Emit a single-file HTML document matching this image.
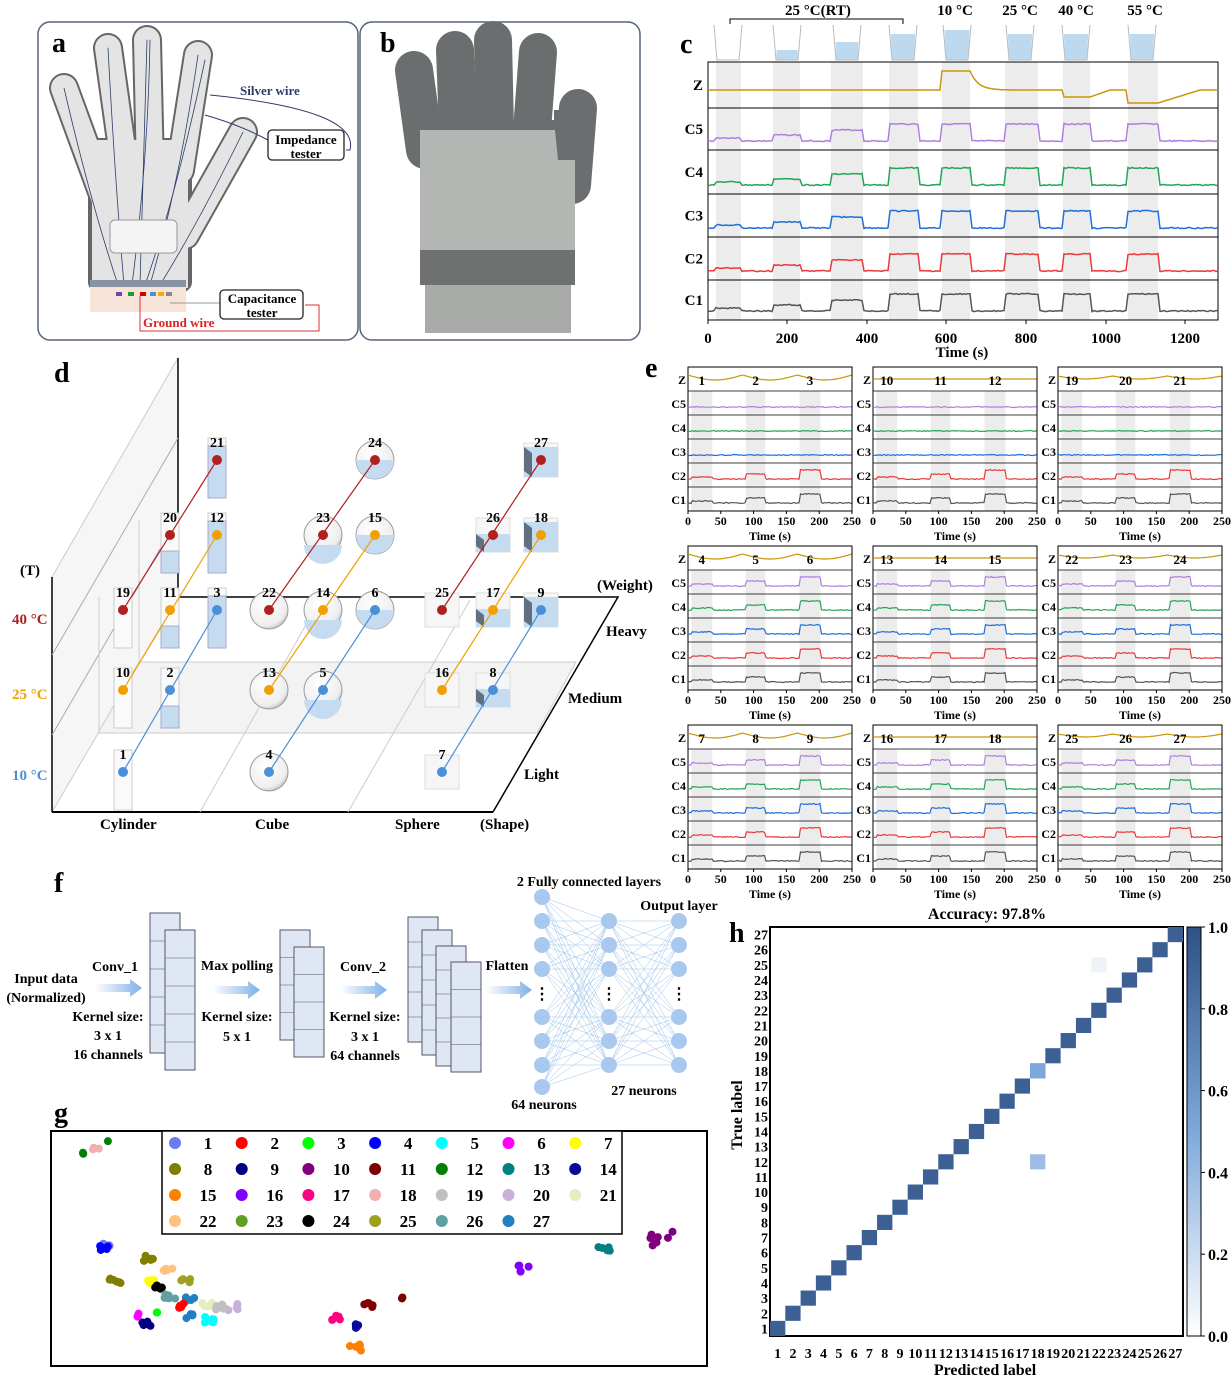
<!DOCTYPE html>
<html><head><meta charset="utf-8"><style>
html,body{margin:0;padding:0;background:#fff}
svg{display:block}
text{font-family:"Liberation Serif",serif;font-weight:bold}
</style></head><body>
<svg id="s" width="1232" height="1378" xmlns="http://www.w3.org/2000/svg">
<defs>
<linearGradient id="arr" x1="0" x2="1"><stop offset="0" stop-color="#fff"/><stop offset="1" stop-color="#7fb0e6"/></linearGradient>
<linearGradient id="cb" x1="0" x2="0" y1="0" y2="1"><stop offset="0" stop-color="#2f5185"/><stop offset="0.5" stop-color="#7ea8dc"/><stop offset="1" stop-color="#fff"/></linearGradient>
<radialGradient id="sph" cx="0.4" cy="0.35" r="0.7"><stop offset="0" stop-color="#fff"/><stop offset="0.8" stop-color="#eee"/><stop offset="1" stop-color="#bbb"/></radialGradient>
</defs>
<!-- panel a -->
<rect x="38" y="22" width="320" height="318" rx="12" fill="#fff" stroke="#55657a" stroke-width="1.5"/>
<g stroke-linecap="round" fill="none">
<g stroke="#666" stroke-width="30"><line x1="105" y1="200" x2="64" y2="88"/><line x1="125" y1="170" x2="108" y2="48"/><line x1="150" y1="170" x2="147" y2="40"/><line x1="180" y1="170" x2="198" y2="55"/><line x1="185" y1="235" x2="243" y2="132"/></g>
<rect x="90" y="140" width="100" height="150" fill="#666" stroke="#666" stroke-width="4" rx="8"/>
<g stroke="#e4e4e4" stroke-width="26"><line x1="105" y1="200" x2="64" y2="88"/><line x1="125" y1="170" x2="108" y2="48"/><line x1="150" y1="170" x2="147" y2="40"/><line x1="180" y1="170" x2="198" y2="55"/><line x1="185" y1="235" x2="243" y2="132"/></g>
<rect x="92" y="140" width="96" height="148" fill="#e4e4e4" stroke="none"/>
<g stroke="#2d3c6a" stroke-width="0.8"><path d="M64 88 Q90 200 118 285"/><path d="M108 48 Q115 180 124 285"/><path d="M147 40 L140 285"/><path d="M198 55 Q180 180 150 285"/><path d="M243 132 Q200 220 160 285"/><path d="M150 40 Q148 160 132 285"/><path d="M205 60 Q175 200 145 285"/></g>
</g>
<rect x="110" y="220" width="67" height="33" rx="5" fill="#f4f4f4" stroke="#999"/>
<rect x="90" y="280" width="96" height="7" fill="#8a93a3"/>
<rect x="90" y="287" width="96" height="25" fill="#f8e3d8"/>
<g><rect x="116" y="292" width="6" height="4" fill="#7b3fb0"/><rect x="128" y="292" width="6" height="4" fill="#1a9a3a"/><rect x="140" y="292" width="6" height="4" fill="#c00"/><rect x="150" y="292" width="6" height="4" fill="#4a90d0"/><rect x="158" y="292" width="6" height="4" fill="#f0b000"/><rect x="166" y="292" width="6" height="4" fill="#888"/></g>
<path d="M140 296 V331 H319 V305 H305" fill="none" stroke="#d33" stroke-width="1"/>
<line x1="170" y1="303" x2="220" y2="303" stroke="#999"/>
<path d="M210 95 Q360 110 350 150 L346 150" fill="none" stroke="#2d3c6a" stroke-width="1"/>
<path d="M205 115 Q240 125 268 140" fill="none" stroke="#2d3c6a" stroke-width="1"/>
<text x="240" y="95" font-size="13" fill="#2d3c6a">Silver wire</text>
<rect x="268" y="130" width="76" height="30" rx="4" fill="#fff" stroke="#222" stroke-width="1.3"/>
<text x="306" y="144" font-size="13" text-anchor="middle">Impedance</text>
<text x="306" y="158" font-size="13" text-anchor="middle">tester</text>
<rect x="220" y="290" width="83" height="29" rx="4" fill="#fff" stroke="#222" stroke-width="1.3"/>
<text x="262" y="303" font-size="13" text-anchor="middle">Capacitance</text>
<text x="262" y="317" font-size="13" text-anchor="middle">tester</text>
<text x="143" y="327" font-size="13" fill="#d22">Ground wire</text>
<text x="52" y="52" font-size="28">a</text>
<!-- panel b -->
<rect x="360" y="22" width="280" height="318" rx="12" fill="#fff" stroke="#55657a" stroke-width="1.5"/>
<g stroke-linecap="round">
<g stroke="#6b6e6e" stroke-width="38"><line x1="425" y1="150" x2="414" y2="70"/><line x1="458" y1="130" x2="455" y2="50"/><line x1="495" y1="130" x2="493" y2="40"/><line x1="532" y1="130" x2="538" y2="52"/><line x1="572" y1="185" x2="578" y2="108"/></g>
</g>
<rect x="420" y="120" width="135" height="30" fill="#6b6e6e"/>
<rect x="554" y="110" width="35" height="80" fill="#6b6e6e"/>
<path d="M420 130 L555 130 L558 160 L575 160 L575 250 L420 250 Z" fill="#b4b6b4"/>
<rect x="420" y="250" width="155" height="35" fill="#6e7170"/>
<rect x="425" y="285" width="146" height="48" fill="#a9aba9"/>
<text x="380" y="52" font-size="28">b</text>
</svg>
<script>
var S=document.getElementById('s'),NS='http://www.w3.org/2000/svg';
function E(t,a,txt){var e=document.createElementNS(NS,t);for(var k in a)e.setAttribute(k,a[k]);if(txt!==undefined)e.textContent=txt;S.appendChild(e);return e;}
function T(x,y,s,sz,fill,anc,extra){var a={x:x,y:y,'font-size':sz||13,fill:fill||'#000','text-anchor':anc||'start'};if(extra)for(var k in extra)a[k]=extra[k];return E('text',a,s);}
function L(x1,y1,x2,y2,st,w){return E('line',{x1:x1,y1:y1,x2:x2,y2:y2,stroke:st||'#000','stroke-width':w||1});}
function R(x,y,w,h,f,st,sw){return E('rect',{x:x,y:y,width:w,height:h,fill:f||'none',stroke:st||'none','stroke-width':sw||1});}
function C(x,y,r,f,st){return E('circle',{cx:x,cy:y,r:r,fill:f,stroke:st||'none'});}
var seed=3;function rnd(){seed=(seed*9301+49297)%233280;return seed/233280;}
var COL={Z:'#c8960a',C5:'#b07ee0',C4:'#23a556',C3:'#1f6fd8',C2:'#e83a3a',C1:'#555'};
/* panel c */
var rows=['Z','C5','C4','C3','C2','C1'],sep=[62,108,150,194,237,280,320];
var bands=[[716,741],[773,800],[831,863],[889,918],[942,970],[1005,1038],[1063,1090],[1128,1158]];
bands.forEach(function(b){R(b[0],62,b[1]-b[0],258,'#ececec');});
R(708,62,510,258,'none','#000',1);
for(var i=1;i<6;i++)L(708,sep[i],1218,sep[i],'#000',1);
var hts=[3,6,11,17,17,17,17,17];
rows.forEach(function(r,ri){
 var bot=sep[ri+1]-9,d='';
 for(var x=708;x<=1218;x+=2){var y;
  if(r=='Z'){y=90;if(x>=942&&x<=970)y=71;else if(x>970&&x<1010)y=71+19*(1-Math.exp(-(x-970)/8));
   if(x>=1063&&x<=1090)y=97;else if(x>1090&&x<1110)y=97-7*(x-1090)/20;
   if(x>=1128&&x<=1158)y=103;else if(x>1158&&x<1200)y=103-13*(x-1158)/42;}
  else{y=bot;bands.forEach(function(b,bi){if(x>=b[0]&&x<=b[1])y=bot-hts[bi];});y+=(rnd()-0.5)*1.2;}
  d+=(x==708?'M':'L')+x+' '+y.toFixed(1);}
 E('path',{d:d,fill:'none',stroke:COL[r],'stroke-width':1.5});
 T(703,(sep[ri]+sep[ri+1])/2+5,r,15,'#000','end');
});
[['0',708],['200',787],['400',867],['600',946],['800',1026],['1000',1106],['1200',1185]].forEach(function(t){L(t[1],320,t[1],324);T(t[1],343,t[0],15,'#000','middle');});
T(962,357,'Time (s)',15,'#000','middle');
[728,787,847,903,957,1020,1076,1142].forEach(function(x,i){var lv=[0,50,42,34,30,34,34,34][i];if(lv)E('path',{d:'M'+(x-13+(lv-25)*0.1)+' '+lv+' L'+(x-11)+' 60 L'+(x+11)+' 60 L'+(x+13-(lv-25)*0.1)+' '+lv+' Z',fill:'#bcd9f0'});E('path',{d:'M'+(x-14)+' 25 L'+(x-11)+' 60 L'+(x+11)+' 60 L'+(x+14)+' 25',fill:'none',stroke:'#bbb'});});
E('path',{d:'M730 24 V19 H903 V24',fill:'none',stroke:'#000'});
T(818,15,'25 °C(RT)',15,'#000','middle');T(955,15,'10 °C',15,'#000','middle');T(1020,15,'25 °C',15,'#000','middle');T(1076,15,'40 °C',15,'#000','middle');T(1145,15,'55 °C',15,'#000','middle');
T(680,53,'c',28);
/* panel e */
var X0=[688,873,1058],Y0=[367,546,725];
for(var c=0;c<3;c++)for(var r=0;r<3;r++){
 var x0=X0[c],y0=Y0[r],w=164,ppu=w/250;
 var bb=[[5,37],[88,118],[170,202]].map(function(b){return [x0+b[0]*ppu,x0+b[1]*ppu];});
 bb.forEach(function(b){R(b[0],y0+24,b[1]-b[0],120,'#ececec');});
 R(x0,y0,w,144,'none','#000',1);
 for(var k=1;k<6;k++)L(x0,y0+24*k,x0+w,y0+24*k,'#000',0.8);
 rows.forEach(function(rn,ri){
  var bot=y0+24*ri+16,d='',amp=[2,5,9];
  var active=(rn=='C5'||rn=='C4'||rn=='C3')?(r>0):true;
  for(var x=x0;x<=x0+w;x+=1.5){var y=bot;
   if(rn=='Z'){y=y0+12;if(c==0)y=y0+8+5*Math.abs(Math.sin((x-x0)/w*Math.PI*3));else if(c==2)y=y0+9+3*Math.abs(Math.sin((x-x0)/w*Math.PI*3));}
   else{bb.forEach(function(b,bi){if(active&&x>=b[0]&&x<=b[1])y=bot-amp[bi];});y+=(rnd()-0.5)*1.0;}
   d+=(x==x0?'M':'L')+x.toFixed(1)+' '+y.toFixed(1);}
  E('path',{d:d,fill:'none',stroke:COL[rn],'stroke-width':1.2});
  T(x0-2,y0+24*ri+17,rn,12,'#000','end');
 });
 bb.forEach(function(b,bi){T((b[0]+b[1])/2,y0+18,String(c*9+r*3+bi+1),13,'#000','middle');});
 ['0','50','100','150','200','250'].forEach(function(t,ti){var tx=x0+ti*50*ppu;L(tx,y0+144,tx,y0+147);T(tx,y0+158,t,12,'#000','middle');});
 T(x0+82,y0+173,'Time (s)',12,'#000','middle');
}
T(645,377,'e',28);
/* panel d */
E('path',{d:'M52 812 L178 597 L178 358 L52 577 Z',fill:'#f6f6f6',stroke:'#ccc'});
L(52,577,52,812,'#000',1.5);L(178,358,178,597,'#000',1.5);
E('path',{d:'M98 733 L537 733 L576 662 L139 662 Z',fill:'#f3f3f3',stroke:'#ccc'});
E('path',{d:'M178 597 L618 597 L493 812',fill:'none',stroke:'#000','stroke-width':1.5});
L(52,812,493,812,'#000',2);
L(200,812,320,600,'#ccc');L(348,812,470,600,'#ccc');
L(52,655,178,438,'#aab');L(52,735,178,518,'#aab');L(99,597,99,733,'#ccc');L(139,520,139,662,'#ccc');
var grp=[[123,170,217],[269,323,375],[442,493,541]];
var yb=[[772,690,610],[690,610,535],[610,535,460]];
var cols=['#4a90d9','#f0a000','#b21f1f'];
for(var g=0;g<3;g++)for(var t=0;t<3;t++){
 var px=grp[g],py=yb[t];
 for(var w2=0;w2<3;w2++){var x=px[w2],y=py[w2];
  if(g==0){R(x-9,y-22,18,60,'#fafafa','#ccc');var f=[0,22,52][w2];if(f)R(x-9,y+38-f,18,f,'#c5dcf0','#aac');}
  else if(g==1){C(x,y,19,'url(#sph)','#999');if(w2>0)E('path',{d:'M'+(x-19)+' '+(y+(w2==2?0:10))+' A19 19 0 0 0 '+(x+19)+' '+(y+(w2==2?0:10))+' Z',fill:'#c5dcf0'});}
  else{R(x-17,y-17,34,34,'#f6f6f6','#ddd');if(w2>0){var hh=w2==2?30:18;R(x-17,y+17-hh,34,hh,'#c5dcf0');E('path',{d:'M'+(x-17)+' '+(y+17-hh)+' l8 6 v'+(hh-6)+' l-8 -6 z',fill:'#607080'});}}
 }
 E('line',{x1:px[0],y1:py[0],x2:px[2],y2:py[2],stroke:cols[t],'stroke-width':1.2});
 for(var w3=0;w3<3;w3++){C(px[w3],py[w3],5,cols[t]);T(px[w3],py[w3]-13,String(g*3+t*9+w3+1),14,'#000','middle');}
}
T(20,575,'(T)',15);T(12,624,'40 °C',15,'#b21f1f');T(12,699,'25 °C',15,'#f0a000');T(12,780,'10 °C',15,'#4a90d9');
T(597,590,'(Weight)',15);T(606,636,'Heavy',15);T(568,703,'Medium',15);T(524,779,'Light',15);
T(100,829,'Cylinder',15);T(255,829,'Cube',15);T(395,829,'Sphere',15);T(480,829,'(Shape)',15);
T(54,382,'d',28);
/* panel f */
T(54,892,'f',28);
function arrow(x1,x2,y){E('path',{d:'M'+x1+' '+(y-4)+' L'+(x2-12)+' '+(y-4)+' L'+(x2-12)+' '+(y-9)+' L'+x2+' '+y+' L'+(x2-12)+' '+(y+9)+' L'+(x2-12)+' '+(y+4)+' L'+x1+' '+(y+4)+' Z',fill:'url(#arr)'});}
arrow(95,142,988);arrow(212,260,990);arrow(340,387,990);arrow(486,532,990);
function fm(x,y,w,h,n){R(x,y,w,h,'#dfe7f5','#556');for(var i=1;i<n;i++)L(x,y+h*i/n,x+w,y+h*i/n,'#556',0.6);}
fm(150,913,30,140,5);fm(165,930,30,140,5);fm(280,930,30,110,4);fm(294,947,30,110,4);
fm(408,917,30,125,5);fm(422,930,30,125,5);fm(436,946,30,120,5);fm(451,962,30,110,4);
T(46,983,'Input data',14,'#000','middle');T(46,1002,'(Normalized)',14,'#000','middle');
T(115,971,'Conv_1',14,'#000','middle');T(108,1021,'Kernel size:',14,'#000','middle');T(108,1040,'3 x 1',14,'#000','middle');T(108,1059,'16 channels',14,'#000','middle');
T(237,970,'Max polling',14,'#000','middle');T(237,1021,'Kernel size:',14,'#000','middle');T(237,1041,'5 x 1',14,'#000','middle');
T(363,971,'Conv_2',14,'#000','middle');T(365,1021,'Kernel size:',14,'#000','middle');T(365,1041,'3 x 1',14,'#000','middle');T(365,1060,'64 channels',14,'#000','middle');
T(507,970,'Flatten',14,'#000','middle');
var c1=[897,921,945,969,1017,1041,1065,1087],c2=[921,945,969,1017,1041,1065];
c1.forEach(function(a){c2.forEach(function(b){L(542,a,609,b,'#9cc2ea',0.5);});});
c2.forEach(function(a){c2.forEach(function(b){L(609,a,679,b,'#9cc2ea',0.5);});});
c1.forEach(function(a){C(542,a,8,'#a9c8ee');});c2.forEach(function(a){C(609,a,8,'#a9c8ee');C(679,a,8,'#a9c8ee');});
[542,609,679].forEach(function(x){T(x,999,'⋮',16,'#000','middle');});
T(589,886,'2 Fully connected layers',14,'#000','middle');T(679,910,'Output layer',14,'#000','middle');T(644,1095,'27 neurons',14,'#000','middle');T(544,1109,'64 neurons',14,'#000','middle');
/* panel g */
T(54,1122,'g',28);
R(51,1131,656,235,'none','#000',2);R(162,1131,460,103,'#fff','#000',1.5);
var pc=['#6b7cf2','#f00','#0f0','#00f','#0ff','#f0f','#ff0','#808000','#000080','#800080','#800000','#008000','#008080','#0a0a9a','#ff8000','#8000ff','#ff0080','#f0b0b0','#c0c0c0','#c8b0d8','#e0f0c0','#ffc080','#60a020','#000','#a0a020','#60a0a0','#2080c0'];
var lab=['1','2','3','4','5','6','7','8','9','10','11','12','13','14','15','16','17','18','19','20','21','22','23','24','25','26','27'];
for(var i=0;i<27;i++){var rr=Math.floor(i/7),cc=i%7,mx=175+cc*66.7,my=1143+rr*26;C(mx,my,6,pc[i]);T(mx+33,my+6,lab[i],17,'#000','middle');}
function cl(x,y,k,n,s){for(var i=0;i<n;i++)C(x+(rnd()-0.5)*s,y+(rnd()-0.5)*s*0.6,4,pc[k-1]);}
cl(83,1153,12,2,4);cl(95,1150,18,3,8);cl(108,1141,12,1,2);
cl(105,1246,1,8,10);cl(104,1248,4,6,10);
cl(148,1258,8,6,10);cl(115,1282,8,6,12);cl(168,1270,22,6,12);cl(186,1280,25,5,10);cl(150,1282,7,4,8);cl(160,1288,24,5,10);cl(170,1296,26,6,12);cl(190,1300,27,5,10);cl(207,1304,21,5,10);cl(232,1306,20,6,14);cl(222,1307,19,5,12);cl(145,1323,9,6,12);cl(140,1315,6,3,6);cl(182,1306,2,5,10);cl(210,1320,5,6,12);cl(190,1316,27,4,8);cl(158,1312,3,2,4);
cl(335,1318,17,6,10);cl(355,1325,14,6,10);cl(355,1348,15,6,12);cl(368,1305,11,5,12);cl(400,1298,11,2,6);
cl(525,1268,16,5,16);cl(605,1250,13,5,14);cl(660,1239,10,7,26);
/* panel h */
T(987,919,'Accuracy: 97.8%',16,'#000','middle');T(729,942,'h',28);
var hx=770,hy=927,cs=413/27;
R(hx,hy,413,409,'#fff','#000',2);
for(var k=1;k<=27;k++){R(hx+(k-1)*cs,hy+(27-k)*409/27,cs,409/27,'#3c5f94');}
R(hx+17*cs,hy+(27-12)*409/27,cs,409/27,'#9dbde6');
R(hx+17*cs,hy+(27-18)*409/27,cs,409/27,'#7ea8dc');
R(hx+21*cs,hy+(27-25)*409/27,cs,409/27,'#eef3fa');
for(var k=1;k<=27;k++){T(hx-2,hy+(27-k+0.5)*409/27+5,lab[k-1],14,'#000','end');T(hx+(k-0.5)*cs,1358,lab[k-1],14,'#000','middle');}
T(985,1375,'Predicted label',16,'#000','middle');
T(742,1115,'True label',16,'#000','middle',{transform:'rotate(-90 742 1115)'});
R(1187,927,14,409,'url(#cb)','#000',1);
['1.0','0.8','0.6','0.4','0.2','0.0'].forEach(function(t,i){var y=927+i*409/5;L(1201,y,1205,y);T(1208,y+6,t,16);});
</script>
</body></html>
